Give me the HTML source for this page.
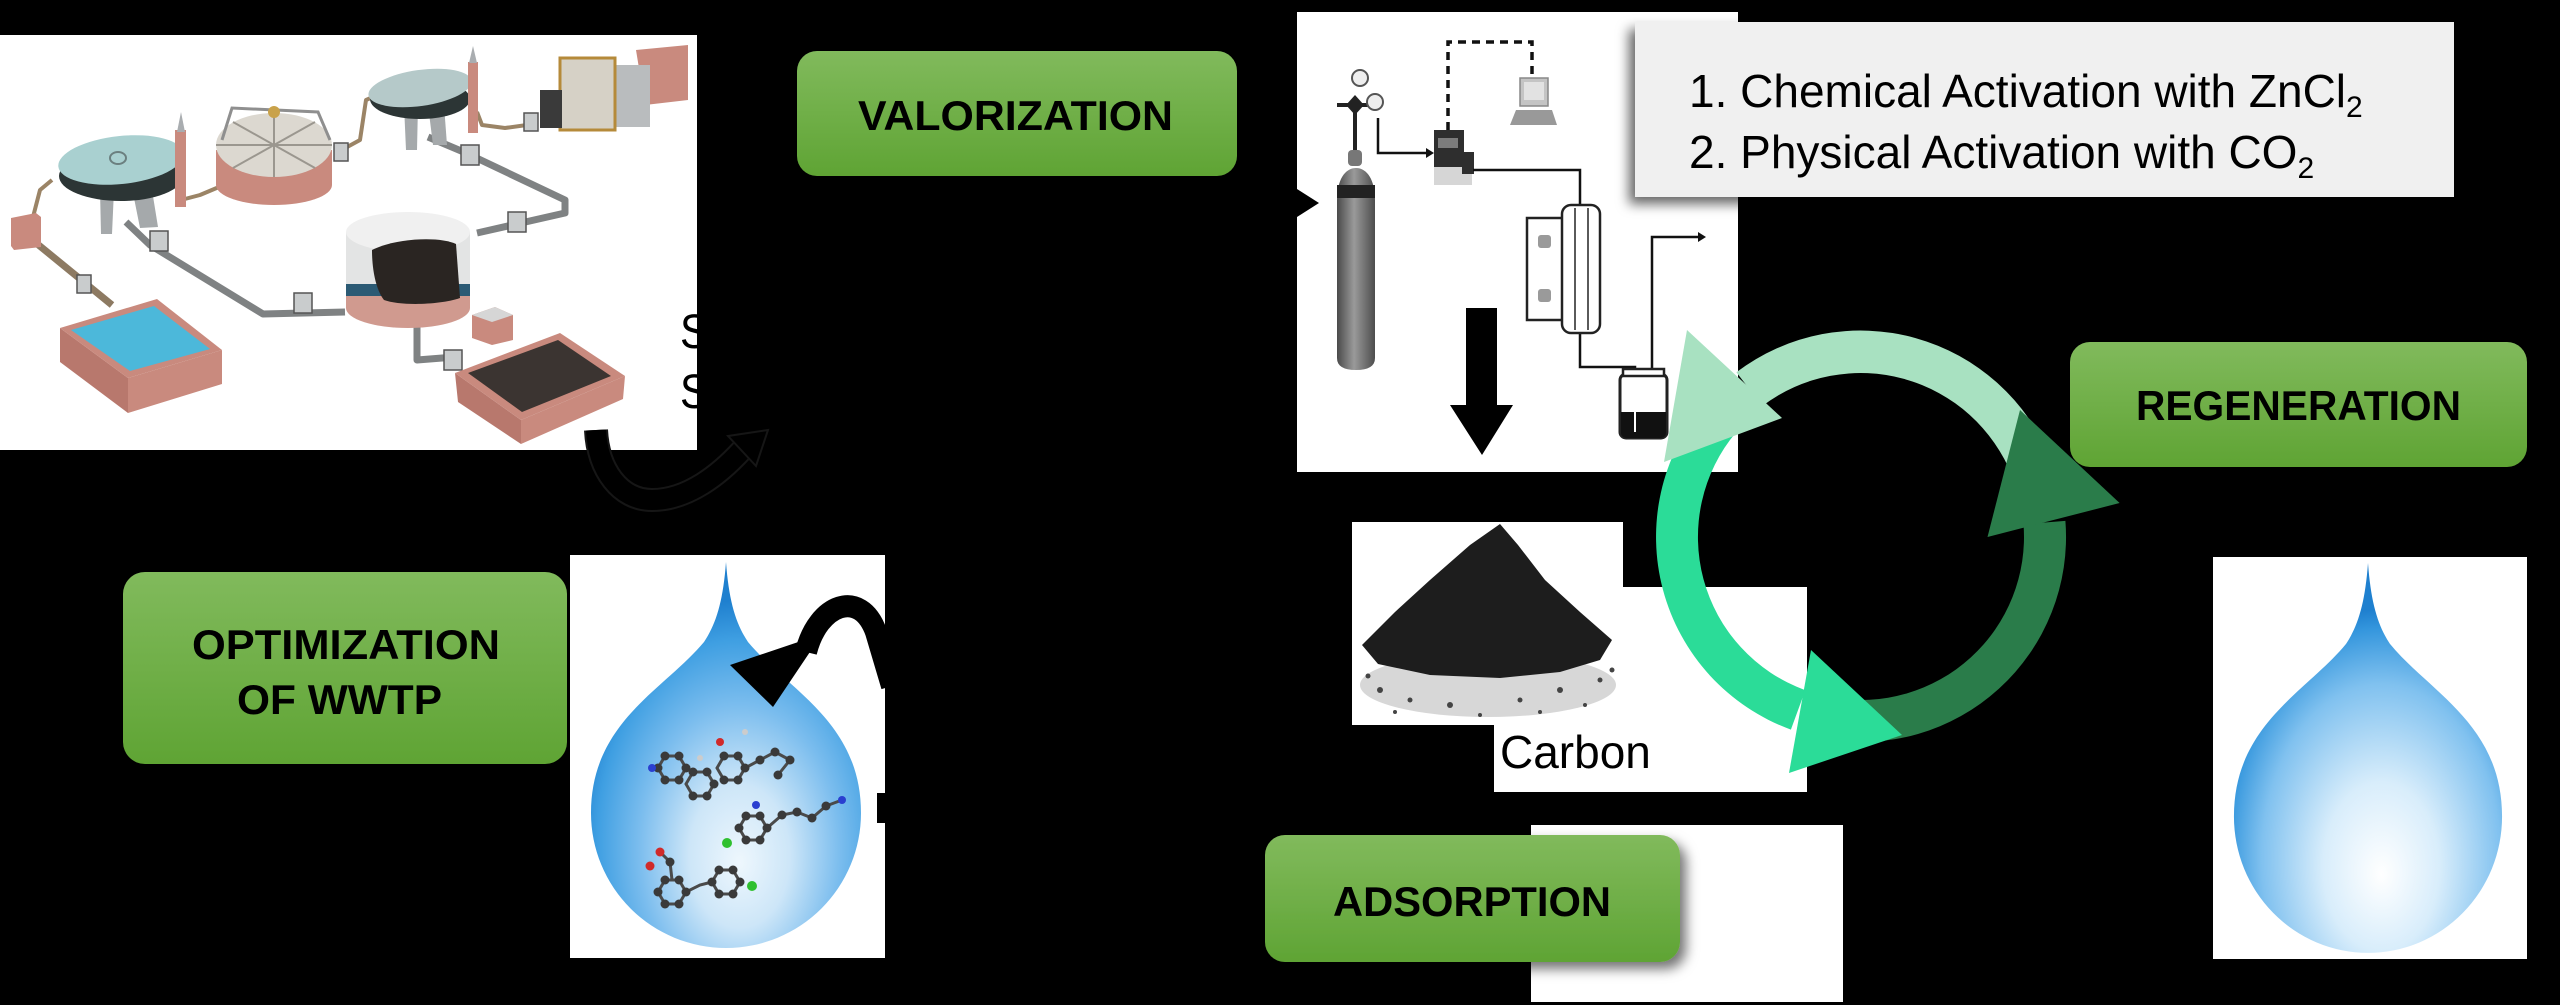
<!DOCTYPE html>
<html>
<head>
<meta charset="utf-8">
<style>
html,body{margin:0;padding:0;background:#000;}
body{width:2560px;height:1005px;overflow:hidden;}
svg{display:block;}
.bx{font-family:"Liberation Sans",Arial,sans-serif;font-weight:bold;font-size:42px;fill:#000;}
.tx{font-family:"Liberation Sans",Arial,sans-serif;font-size:46px;fill:#000;}
.nr{font-family:"Liberation Sans Narrow","Liberation Sans",Arial,sans-serif;font-size:48px;fill:#000;}
</style>
</head>
<body>
<svg width="2560" height="1005" viewBox="0 0 2560 1005" xmlns="http://www.w3.org/2000/svg">
<defs>
  <linearGradient id="gb" x1="0" y1="0" x2="0" y2="1">
    <stop offset="0" stop-color="#81ba5c"/>
    <stop offset="1" stop-color="#5fa434"/>
  </linearGradient>
  <radialGradient id="drop" cx="0.55" cy="0.74" r="0.62" fx="0.55" fy="0.8">
    <stop offset="0" stop-color="#ffffff"/>
    <stop offset="0.35" stop-color="#d8edfb"/>
    <stop offset="0.72" stop-color="#80c1ef"/>
    <stop offset="0.93" stop-color="#3496dd"/>
    <stop offset="1" stop-color="#1f80cf"/>
  </radialGradient>
  <radialGradient id="dropL" cx="0.55" cy="0.72" r="0.62" fx="0.55" fy="0.78">
    <stop offset="0" stop-color="#eef7fd"/>
    <stop offset="0.3" stop-color="#cde6f8"/>
    <stop offset="0.6" stop-color="#7bbdee"/>
    <stop offset="0.85" stop-color="#3f9fe2"/>
    <stop offset="1" stop-color="#1f80cf"/>
  </radialGradient>
  <linearGradient id="cyl" x1="0" y1="0" x2="1" y2="0">
    <stop offset="0" stop-color="#4a4a4a"/>
    <stop offset="0.45" stop-color="#9a9a9a"/>
    <stop offset="1" stop-color="#4d4d4d"/>
  </linearGradient>
  <filter id="sh" x="-10%" y="-10%" width="130%" height="140%">
    <feDropShadow dx="6" dy="7" stdDeviation="6" flood-color="#000" flood-opacity="0.55"/>
  </filter>
  <filter id="sh2" x="-10%" y="-10%" width="130%" height="140%">
    <feDropShadow dx="-6" dy="7" stdDeviation="6" flood-color="#000" flood-opacity="0.6"/>
  </filter>
  <path id="dropShape" d="M0,0 C3,40 10,62 22,80 C62,128 135,160 135,251 A135,135 0 0 1 0,386 A135,135 0 0 1 -135,251 C-135,160 -62,128 -22,80 C-10,62 -3,40 0,0 Z"/>
</defs>

<rect width="2560" height="1005" fill="#000"/>

<!-- ================= WWTP illustration ================= -->
<g>
  <rect x="0" y="35" width="697" height="415" fill="#fff"/>
  <g stroke="#9b8466" stroke-width="4" fill="none" stroke-linejoin="round">
    <polyline points="52,180 40,190 33,217"/>
    <polyline points="181,200 200,195 219,187"/>
    <polyline points="338,152 360,140 366,100 373,97"/>
    <polyline points="477,112 482,125 505,128 527,125"/>
  </g>
  <line x1="30" y1="238" x2="112" y2="305" stroke="#8d7a62" stroke-width="7"/>
  <g stroke="#7f8283" stroke-width="7" fill="none" stroke-linejoin="round">
    <polyline points="126,222 150,245 263,314 345,312"/>
    <polyline points="428,137 466,153 565,200 565,213 477,233"/>
    <polyline points="417,300 417,360 455,357"/>
  </g>
  <g fill="#c9cccd" stroke="#555" stroke-width="1.5">
    <rect x="150" y="231" width="18" height="20"/>
    <rect x="294" y="293" width="18" height="20"/>
    <rect x="461" y="145" width="18" height="20"/>
    <rect x="508" y="212" width="18" height="20"/>
    <rect x="444" y="350" width="18" height="20"/>
    <rect x="77" y="275" width="14" height="18"/>
    <rect x="334" y="143" width="14" height="18"/>
    <rect x="524" y="113" width="14" height="18"/>
  </g>
  <polygon points="11,218 36,213 41,217 41,247 14,250 11,246" fill="#c98a7e"/>
  <polygon points="60,328 60,362 128,413 128,378" fill="#b8786d"/>
  <polygon points="128,378 222,350 222,384 128,413" fill="#c98a7e"/>
  <polygon points="60,328 157,299 222,350 128,378" fill="#c98a7e"/>
  <polygon points="71,330 154,306 210,349 130,371" fill="#4cb8da"/>
  <polygon points="455,373 458,402 521,444 521,420" fill="#b8786d"/>
  <polygon points="521,420 625,376 623,399 521,444" fill="#c98a7e"/>
  <polygon points="455,373 560,333 625,376 521,420" fill="#c98a7e"/>
  <polygon points="468,373 558,340 611,376 522,412" fill="#3b3431"/>
  <polygon points="472,315 495,307 513,315 513,340 492,345 472,338" fill="#c98a7e"/>
  <polygon points="472,315 495,307 513,315 492,322" fill="#d6d6d6"/>
  <polygon points="100,190 114,190 112,234 101,234" fill="#a5a9ab"/>
  <polygon points="132,188 152,190 158,227 140,228" fill="#a5a9ab"/>
  <ellipse cx="121" cy="176" rx="62" ry="25" fill="#2c3535"/>
  <ellipse cx="121" cy="160" rx="63" ry="24" fill="#a9d0d0" transform="rotate(-6 121 160)"/>
  <ellipse cx="118" cy="158" rx="8" ry="6" fill="none" stroke="#6b7f7f" stroke-width="2"/>
  <rect x="175" y="130" width="11" height="77" fill="#c98a7e"/>
  <polygon points="177,132 181,112 185,132" fill="#a9adb0"/>
  <path d="M216,150 L216,185 A58,20 0 0 0 332,185 L332,150 Z" fill="#c98a7e"/>
  <ellipse cx="274" cy="145" rx="58" ry="32" fill="#dcd8d0"/>
  <g stroke="#9b978f" stroke-width="2">
    <line x1="274" y1="145" x2="332" y2="145"/><line x1="274" y1="145" x2="216" y2="145"/>
    <line x1="274" y1="145" x2="274" y2="113"/><line x1="274" y1="145" x2="274" y2="177"/>
    <line x1="274" y1="145" x2="315" y2="122"/><line x1="274" y1="145" x2="233" y2="168"/>
    <line x1="274" y1="145" x2="233" y2="122"/><line x1="274" y1="145" x2="315" y2="168"/>
  </g>
  <polyline points="222,140 232,108 318,112 330,140" fill="none" stroke="#8f8f8f" stroke-width="3"/>
  <circle cx="274" cy="112" r="6" fill="#c9a24a"/>
  <polygon points="404,105 418,105 417,150 406,150" fill="#a5a9ab"/>
  <polygon points="428,105 444,105 447,145 433,145" fill="#a5a9ab"/>
  <ellipse cx="420" cy="99" rx="50" ry="20" fill="#2c3535"/>
  <ellipse cx="420" cy="88" rx="52" ry="18" fill="#b5c9c9" transform="rotate(-8 420 88)"/>
  <rect x="468" y="62" width="10" height="71" fill="#c98a7e"/>
  <polygon points="469,63 473,46 477,63" fill="#a9adb0"/>
  <polygon points="636,50 688,45 688,100 645,105" fill="#c98a7e"/>
  <rect x="605" y="65" width="45" height="62" fill="#b9bcbe"/>
  <rect x="560" y="58" width="55" height="72" fill="#d6d1c6" stroke="#b58a3a" stroke-width="3"/>
  <rect x="540" y="90" width="22" height="38" fill="#3a3a3a"/>
  <ellipse cx="408" cy="308" rx="62" ry="20" fill="#d09a8f"/>
  <rect x="346" y="290" width="124" height="18" fill="#d09a8f"/>
  <rect x="346" y="282" width="124" height="14" fill="#2b5a74"/>
  <rect x="346" y="232" width="124" height="52" fill="#e3e4e4"/>
  <ellipse cx="408" cy="232" rx="62" ry="20" fill="#f0f0f0"/>
  <path d="M372,250 C395,238 440,236 456,244 L460,298 C440,305 400,306 384,300 C376,290 372,270 372,250 Z" fill="#2a2522"/>
</g>
<text class="nr" x="680" y="348" textLength="154" lengthAdjust="spacingAndGlyphs">Sewage</text>
<text class="nr" x="680" y="408" textLength="132" lengthAdjust="spacingAndGlyphs">Sludge</text>
<path d="M596,430 C598,470 620,500 652,500 C688,500 720,474 742,450" fill="none" stroke="#161616" stroke-width="24"/>
<path d="M596,430 C598,470 620,500 652,500 C688,500 720,474 742,450" fill="none" stroke="#000" stroke-width="20"/>
<polygon points="728,436 768,430 756,466" fill="#000" stroke="#161616" stroke-width="2"/>

<!-- ================= VALORIZATION box ================= -->
<rect x="797" y="51" width="440" height="125" rx="20" fill="url(#gb)"/>
<text class="bx" x="858" y="130" textLength="315" lengthAdjust="spacingAndGlyphs">VALORIZATION</text>

<!-- ================= Lab setup ================= -->
<g>
  <rect x="1297" y="12" width="441" height="460" fill="#fff"/>
  <polygon points="1297,189 1319,203 1297,217" fill="#000"/>
  <polyline points="1448,130 1448,42 1532,42 1532,78" fill="none" stroke="#111" stroke-width="3.5" stroke-dasharray="8,6"/>
  <rect x="1520" y="78" width="28" height="28" fill="#c4c4c4" stroke="#888" stroke-width="1.5"/>
  <rect x="1524" y="82" width="20" height="18" fill="#e2e2e2"/>
  <polygon points="1516,110 1552,110 1557,125 1510,125" fill="#999"/>
  <line x1="1355" y1="103" x2="1355" y2="150" stroke="#222" stroke-width="4"/>
  <line x1="1337" y1="105" x2="1372" y2="105" stroke="#222" stroke-width="4"/>
  <polygon points="1355,95 1364,105 1355,115 1346,105" fill="#222"/>
  <circle cx="1360" cy="78" r="8" fill="#eee" stroke="#555" stroke-width="2"/>
  <circle cx="1375" cy="102" r="8" fill="#eee" stroke="#555" stroke-width="2"/>
  <rect x="1348" y="150" width="14" height="16" rx="4" fill="#777"/>
  <path d="M1337,200 C1337,180 1345,168 1356,168 C1367,168 1375,180 1375,200 L1375,358 Q1375,370 1356,370 Q1337,370 1337,358 Z" fill="url(#cyl)"/>
  <rect x="1337" y="185" width="38" height="13" fill="#222"/>
  <polyline points="1378,118 1378,153 1428,153" fill="none" stroke="#111" stroke-width="2.5"/>
  <polygon points="1426,148 1434,153 1426,158" fill="#111"/>
  <rect x="1434" y="165" width="38" height="20" fill="#d6d6d6"/>
  <rect x="1434" y="130" width="30" height="37" fill="#2e2e2e"/>
  <rect x="1438" y="138" width="20" height="10" fill="#7c7c7c"/>
  <rect x="1462" y="152" width="12" height="22" fill="#2e2e2e"/>
  <polyline points="1473,170 1580,170 1580,205" fill="none" stroke="#111" stroke-width="2.5"/>
  <polyline points="1580,333 1580,367 1635,367 1635,430" fill="none" stroke="#111" stroke-width="2.5"/>
  <polyline points="1652,372 1652,237 1700,237" fill="none" stroke="#111" stroke-width="2.5"/>
  <polygon points="1698,232 1706,237 1698,242" fill="#111"/>
  <rect x="1527" y="218" width="36" height="102" fill="#fff" stroke="#222" stroke-width="2.5"/>
  <rect x="1538" y="235" width="13" height="13" rx="3" fill="#9a9a9a"/>
  <rect x="1538" y="289" width="13" height="13" rx="3" fill="#9a9a9a"/>
  <rect x="1562" y="205" width="38" height="128" rx="9" fill="#fff" stroke="#222" stroke-width="2.5"/>
  <line x1="1575" y1="208" x2="1575" y2="330" stroke="#222" stroke-width="1.5"/>
  <line x1="1588" y1="208" x2="1588" y2="330" stroke="#222" stroke-width="1.5"/>
  <rect x="1620" y="374" width="47" height="64" rx="6" fill="#fff" stroke="#222" stroke-width="3"/>
  <rect x="1623" y="369" width="41" height="7" fill="#fff" stroke="#222" stroke-width="2.5"/>
  <path d="M1621,412 L1666,412 L1666,432 Q1666,438 1660,438 L1627,438 Q1621,438 1621,432 Z" fill="#111"/>
  <line x1="1635" y1="405" x2="1635" y2="432" stroke="#fff" stroke-width="2"/>
  <polygon points="1466,308 1497,308 1497,405 1513,405 1482,455 1450,405 1466,405" fill="#000"/>
</g>

<!-- ================= text box ================= -->
<rect x="1635" y="22" width="819" height="175" fill="#f0f0f0" filter="url(#sh2)"/>
<text class="tx" x="1689" y="107">1. Chemical Activation with ZnCl<tspan font-size="30" dy="10">2</tspan></text>
<text class="tx" x="1689" y="168">2. Physical Activation with CO<tspan font-size="30" dy="10">2</tspan></text>

<!-- ================= Activated carbon ================= -->
<rect x="1352" y="522" width="271" height="203" fill="#fff"/>
<rect x="1494" y="587" width="313" height="205" fill="#fff"/>
<ellipse cx="1488" cy="685" rx="128" ry="32" fill="#9a9a9a" opacity="0.4"/>
<polygon points="1500,524 1518,545 1545,580 1580,612 1612,640 1600,660 1560,672 1500,678 1430,675 1378,664 1362,645 1395,612 1430,580 1470,545" fill="#1d1d1d"/>
<g fill="#444">
  <circle cx="1380" cy="690" r="3"/><circle cx="1410" cy="700" r="2.5"/><circle cx="1450" cy="705" r="3"/>
  <circle cx="1520" cy="700" r="2.5"/><circle cx="1560" cy="690" r="3"/><circle cx="1600" cy="680" r="2.5"/>
  <circle cx="1395" cy="712" r="2"/><circle cx="1480" cy="715" r="2"/><circle cx="1585" cy="705" r="2"/>
  <circle cx="1368" cy="676" r="2.5"/><circle cx="1612" cy="670" r="2.5"/><circle cx="1540" cy="712" r="2"/>
</g>
<text class="tx" x="1298" y="768">Activated Carbon</text>

<!-- ================= ADSORPTION ================= -->
<rect x="1531" y="825" width="312" height="177" fill="#fff"/>
<rect x="1265" y="835" width="415" height="127" rx="20" fill="url(#gb)" filter="url(#sh)"/>
<text class="bx" x="1333" y="916" textLength="278" lengthAdjust="spacingAndGlyphs">ADSORPTION</text>

<!-- ================= cycle arrows ================= -->
<path d="M2051.1,460.2 A205,205 0 0 0 1736.4,372.3 L1762.3,406.0 A163,163 0 0 1 2012.1,475.9 Z" fill="#a8e1c1"/>
<path d="M1704.0,405.2 A205,205 0 0 0 1790.9,729.6 L1805.3,690.2 A163,163 0 0 1 1736.1,432.2 Z" fill="#2bdc98"/>
<path d="M1825.4,738.9 A205,205 0 0 0 2065.4,520.9 L2023.5,524.2 A163,163 0 0 1 1832.7,697.5 Z" fill="#2a7c4a"/>
<polygon points="1687,330 1782,418 1664,462" fill="#a8e1c1"/>
<polygon points="1811,650 1902,735 1789,773" fill="#2bdc98"/>
<polygon points="2020,410 2119.6,503 1987.5,537" fill="#2a7c4a"/>

<!-- ================= REGENERATION ================= -->
<rect x="2070" y="342" width="457" height="125" rx="20" fill="url(#gb)"/>
<text class="bx" x="2136" y="420" textLength="325" lengthAdjust="spacingAndGlyphs">REGENERATION</text>

<!-- ================= OPTIMIZATION ================= -->
<rect x="123" y="572" width="444" height="192" rx="22" fill="url(#gb)"/>
<text class="bx" x="192" y="659" textLength="308" lengthAdjust="spacingAndGlyphs">OPTIMIZATION</text>
<text class="bx" x="237" y="714" textLength="205" lengthAdjust="spacingAndGlyphs">OF WWTP</text>

<!-- ================= left drop ================= -->
<rect x="570" y="555" width="315" height="403" fill="#fff"/>
<use href="#dropShape" x="726" y="562" fill="url(#dropL)"/>
<g fill="none" stroke="#4a4a4a" stroke-width="3">
  <polygon points="686,768 679,780 665,780 658,768 665,756 679,756"/>
  <polygon points="714,784 707,796 693,796 686,784 693,772 707,772"/>
  <polygon points="745,768 738,780 724,780 717,768 724,756 738,756"/>
  <polyline points="745,768 760,760 775,752 790,760 778,775"/>
  <polygon points="767,828 760,840 746,840 739,828 746,816 760,816"/>
  <polyline points="767,828 782,815 797,812 812,818 826,806 842,800"/>
  <polygon points="686,892 679,904 665,904 658,892 665,880 679,880"/>
  <polygon points="740,882 733,894 719,894 712,882 719,870 733,870"/>
  <polyline points="686,892 700,885 712,882"/>
  <polyline points="672,880 670,862 660,852"/>
</g>
<g fill="#3a3a3a">
  <circle cx="686" cy="768" r="4.5"/><circle cx="679" cy="780" r="4.5"/><circle cx="665" cy="780" r="4.5"/>
  <circle cx="658" cy="768" r="4.5"/><circle cx="665" cy="756" r="4.5"/><circle cx="679" cy="756" r="4.5"/>
  <circle cx="714" cy="784" r="4.5"/><circle cx="707" cy="796" r="4.5"/><circle cx="693" cy="796" r="4.5"/>
  <circle cx="693" cy="772" r="4.5"/><circle cx="707" cy="772" r="4.5"/>
  <circle cx="745" cy="768" r="4.5"/><circle cx="738" cy="780" r="4.5"/><circle cx="724" cy="780" r="4.5"/>
  <circle cx="724" cy="756" r="4.5"/><circle cx="738" cy="756" r="4.5"/>
  <circle cx="760" cy="760" r="4.5"/><circle cx="775" cy="752" r="4.5"/><circle cx="790" cy="760" r="4.5"/><circle cx="778" cy="775" r="4.5"/>
  <circle cx="767" cy="828" r="4.5"/><circle cx="760" cy="840" r="4.5"/><circle cx="746" cy="840" r="4.5"/>
  <circle cx="739" cy="828" r="4.5"/><circle cx="746" cy="816" r="4.5"/><circle cx="760" cy="816" r="4.5"/>
  <circle cx="782" cy="815" r="4.5"/><circle cx="797" cy="812" r="4.5"/><circle cx="812" cy="818" r="4.5"/><circle cx="826" cy="806" r="4.5"/>
  <circle cx="686" cy="892" r="4.5"/><circle cx="679" cy="904" r="4.5"/><circle cx="665" cy="904" r="4.5"/>
  <circle cx="658" cy="892" r="4.5"/><circle cx="665" cy="880" r="4.5"/><circle cx="679" cy="880" r="4.5"/>
  <circle cx="740" cy="882" r="4.5"/><circle cx="733" cy="894" r="4.5"/><circle cx="719" cy="894" r="4.5"/>
  <circle cx="712" cy="882" r="4.5"/><circle cx="719" cy="870" r="4.5"/><circle cx="733" cy="870" r="4.5"/>
  <circle cx="670" cy="862" r="4.5"/>
</g>
<g>
  <circle cx="652" cy="768" r="4" fill="#2a3fd0"/><circle cx="720" cy="742" r="4" fill="#d02a2a"/>
  <circle cx="756" cy="805" r="4" fill="#2a3fd0"/><circle cx="842" cy="800" r="4" fill="#2a3fd0"/>
  <circle cx="727" cy="843" r="5" fill="#2fc02f"/><circle cx="752" cy="886" r="5" fill="#2fc02f"/>
  <circle cx="660" cy="852" r="4.5" fill="#d02a2a"/><circle cx="650" cy="866" r="4.5" fill="#d02a2a"/>
  <circle cx="745" cy="732" r="3" fill="#ccc"/><circle cx="700" cy="758" r="3" fill="#ccc"/>
</g>
<path d="M806,652 C818,604 860,588 876,632 L892,686" fill="none" stroke="#000" stroke-width="22"/>
<polygon points="730,665 822,634 773,707" fill="#000"/>
<rect x="877" y="793" width="9" height="30" fill="#000"/>
<text class="nr" x="906" y="647" fill="#000" textLength="245" lengthAdjust="spacingAndGlyphs">Acetamiprid</text>
<text class="nr" x="906" y="700" fill="#000" textLength="298" lengthAdjust="spacingAndGlyphs">Thiamethoxam</text>
<text class="nr" x="906" y="763" fill="#000" textLength="230" lengthAdjust="spacingAndGlyphs">Imidacloprid</text>

<!-- ================= right drop ================= -->
<rect x="2213" y="557" width="314" height="402" fill="#fff"/>
<use href="#dropShape" x="2368" y="563" fill="url(#drop)" transform="translate(2368 563) scale(0.993 1.01) translate(-2368 -563)"/>
</svg>
</body>
</html>
